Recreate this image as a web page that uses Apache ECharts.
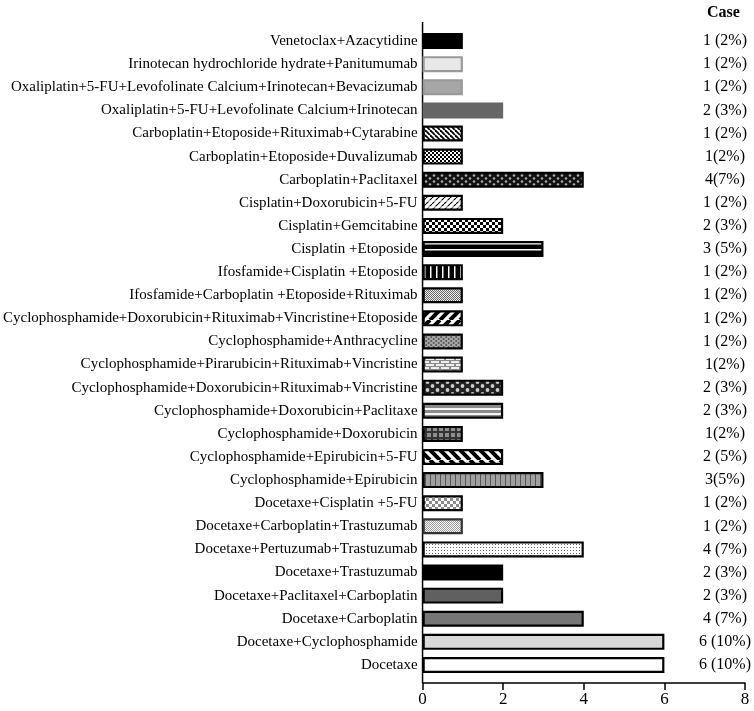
<!DOCTYPE html>
<html>
<head>
<meta charset="utf-8">
<script src="https://cdn.jsdelivr.net/npm/echarts@6/dist/echarts.min.js"></script>
<style>
html, body { margin: 0; padding: 0; background: #fff; }
#main { width: 754px; height: 711px; }
</style>
</head>
<body>
<div id="main"></div>
<script>
// regimens, top to bottom
var regimens = [
	'Venetoclax+Azacytidine',
	'Irinotecan hydrochloride hydrate+Panitumumab',
	'Oxaliplatin+5-FU+Levofolinate Calcium+Irinotecan+Bevacizumab',
	'Oxaliplatin+5-FU+Levofolinate Calcium+Irinotecan',
	'Carboplatin+Etoposide+Rituximab+Cytarabine',
	'Carboplatin+Etoposide+Duvalizumab',
	'Carboplatin+Paclitaxel',
	'Cisplatin+Doxorubicin+5-FU',
	'Cisplatin+Gemcitabine',
	'Cisplatin +Etoposide',
	'Ifosfamide+Cisplatin +Etoposide',
	'Ifosfamide+Carboplatin +Etoposide+Rituximab',
	'Cyclophosphamide+Doxorubicin+Rituximab+Vincristine+Etoposide',
	'Cyclophosphamide+Anthracycline',
	'Cyclophosphamide+Pirarubicin+Rituximab+Vincristine',
	'Cyclophosphamide+Doxorubicin+Rituximab+Vincristine',
	'Cyclophosphamide+Doxorubicin+Paclitaxe',
	'Cyclophosphamide+Doxorubicin',
	'Cyclophosphamide+Epirubicin+5-FU',
	'Cyclophosphamide+Epirubicin',
	'Docetaxe+Cisplatin +5-FU',
	'Docetaxe+Carboplatin+Trastuzumab',
	'Docetaxe+Pertuzumab+Trastuzumab',
	'Docetaxe+Trastuzumab',
	'Docetaxe+Paclitaxel+Carboplatin',
	'Docetaxe+Carboplatin',
	'Docetaxe+Cyclophosphamide',
	'Docetaxe'
];
var cases = [1, 1, 1, 2, 1, 1, 4, 1, 2, 3, 1, 1, 1, 1, 1, 2, 2, 1, 2, 3, 1, 1, 4, 2, 2, 4, 6, 6];
var caseLabels = [
	'1 (2%)', '1 (2%)', '1 (2%)', '2 (3%)', '1 (2%)', '1(2%)', '4(7%)', '1 (2%)', '2 (3%)', '3 (5%)',
	'1 (2%)', '1 (2%)', '1 (2%)', '1 (2%)', '1(2%)', '2 (3%)', '2 (3%)', '1(2%)', '2 (5%)', '3(5%)',
	'1 (2%)', '1 (2%)', '4 (7%)', '2 (3%)', '2 (3%)', '4 (7%)', '6 (10%)', '6 (10%)'
];
var xTicks = [0, 2, 4, 6, 8];

var serif = "'Liberation Serif', 'Times New Roman', serif";

// small canvas tiles for the hatched bars
function tile(w, h, bg, draw) {
	var c = document.createElement('canvas');
	c.width = w;
	c.height = h;
	var ctx = c.getContext('2d');
	ctx.fillStyle = bg;
	ctx.fillRect(0, 0, w, h);
	draw(ctx, w, h);
	return { image: c, repeat: 'repeat' };
}
function diag(ctx, p, back, lw, col) {
	ctx.strokeStyle = col;
	ctx.lineWidth = lw;
	for (var k = -1; k <= 1; k++) {
		ctx.beginPath();
		if (back) {
			ctx.moveTo(k * p, 0);
			ctx.lineTo(k * p + p, p);
		} else {
			ctx.moveTo(k * p, p);
			ctx.lineTo(k * p + p, 0);
		}
		ctx.stroke();
	}
}
function dot(ctx, x, y, r, col) {
	ctx.fillStyle = col;
	ctx.beginPath();
	ctx.arc(x, y, r, 0, Math.PI * 2);
	ctx.fill();
}
function rects(ctx, col, list) {
	ctx.fillStyle = col;
	list.forEach(function(r) { ctx.fillRect(r[0], r[1], r[2], r[3]); });
}

var pat = {
	diagFine: tile(5, 5, '#fff', function(ctx) { diag(ctx, 5, true, 1.8, '#000'); }),
	fineCheck: tile(4, 4, '#fff', function(ctx) { rects(ctx, '#000', [[0, 0, 2, 2], [2, 2, 2, 2]]); }),
	darkDots: tile(8, 6, '#111', function(ctx) { dot(ctx, 2, 1.5, 1.3, '#aaa'); dot(ctx, 6, 4.5, 1.3, '#aaa'); }),
	wave: tile(6, 6, '#fff', function(ctx) { diag(ctx, 6, false, 1.2, '#000'); rects(ctx, '#fff', [[0, 2.5, 6, 1]]); }),
	checker: tile(6, 6, '#fff', function(ctx) { rects(ctx, '#000', [[0, 0, 3, 3], [3, 3, 3, 3]]); }),
	hStripe: tile(4, 6, '#000', function(ctx) { rects(ctx, '#fff', [[0, 3, 4, 1.5]]); }),
	vStripe: tile(6, 4, '#000', function(ctx) { rects(ctx, '#fff', [[4, 0, 1.5, 4]]); }),
	grayFine: tile(2, 2, '#eee', function(ctx) { rects(ctx, '#666', [[0, 0, 1, 1], [1, 1, 1, 1]]); }),
	diagThickFwd: tile(10, 10, '#fff', function(ctx) { diag(ctx, 10, false, 4, '#000'); }),
	grayDots: tile(5, 4, '#a5a5a5', function(ctx) { dot(ctx, 1.2, 1, 1, '#555'); dot(ctx, 3.7, 3, 1, '#555'); }),
	brick: tile(10, 6, '#8c8c8c', function(ctx) { rects(ctx, '#eee', [[1, 1, 8, 2], [-4, 4, 8, 2], [6, 4, 8, 2]]); }),
	diamondDots: tile(10, 8, '#222', function(ctx) { dot(ctx, 2.5, 2, 1.9, '#ccc'); dot(ctx, 7.5, 6, 1.9, '#ccc'); }),
	grayHStripe: tile(4, 5, '#8a8a8a', function(ctx) { rects(ctx, '#f5f5f5', [[0, 3, 4, 2]]); }),
	grid: tile(6, 6, '#333', function(ctx) { rects(ctx, '#8f8f8f', [[1, 1, 4, 4]]); }),
	diagThickBack: tile(10, 10, '#fff', function(ctx) { diag(ctx, 10, true, 4, '#000'); }),
	grayVStripe: tile(5, 4, '#a0a0a0', function(ctx) { rects(ctx, '#555', [[0, 0, 1, 4]]); }),
	grayChecker: tile(6, 6, '#fff', function(ctx) { rects(ctx, '#8a8a8a', [[0, 0, 3, 3], [3, 3, 3, 3]]); }),
	stipple: tile(2, 2, '#fff', function(ctx) { rects(ctx, '#999', [[0, 0, 1, 1], [1, 1, 1, 1]]); }),
	dotted: tile(3, 3, '#fff', function(ctx) { rects(ctx, '#666', [[0, 1, 1, 1]]); })
};

// fill / border per bar, same order as regimens
var barStyles = [
	['#000', '#000'],
	['#e8e8e8', '#999'],
	['#a6a6a6', '#999'],
	['#666', '#666'],
	[pat.diagFine, '#000'],
	[pat.fineCheck, '#000'],
	[pat.darkDots, '#000'],
	[pat.wave, '#000'],
	[pat.checker, '#000'],
	[pat.hStripe, '#000'],
	[pat.vStripe, '#000'],
	[pat.grayFine, '#000'],
	[pat.diagThickFwd, '#000'],
	[pat.grayDots, '#000'],
	[pat.brick, '#000'],
	[pat.diamondDots, '#000'],
	[pat.grayHStripe, '#000'],
	[pat.grid, '#000'],
	[pat.diagThickBack, '#000'],
	[pat.grayVStripe, '#000'],
	[pat.grayChecker, '#000'],
	[pat.stipple, '#333'],
	[pat.dotted, '#000'],
	['#000', '#000'],
	['#606060', '#000'],
	['#767676', '#000'],
	['#d9d9d9', '#000'],
	['#fff', '#000']
];

var barData = cases.map(function(v, i) {
	return {
		value: v,
		itemStyle: {
			color: barStyles[i][0],
			borderColor: barStyles[i][1],
			borderWidth: 2.2
		}
	};
});

var gridTop = 29.5;
var gridBottom = 34.5;

var dom = document.getElementById('main');
var myChart = echarts.init(dom, null, { renderer: 'canvas' });

var option = {
	animation: false,
	backgroundColor: '#fff',
	title: {
		text: 'Case',
		left: 702,
		top: 0,
		textStyle: { fontFamily: serif, fontSize: 16, fontWeight: 'bold', color: '#000' }
	},
	grid: {
		left: 421,
		right: 9,
		top: gridTop,
		bottom: gridBottom,
		containLabel: false
	},
	xAxis: {
		type: 'value',
		min: xTicks[0],
		max: xTicks[xTicks.length - 1],
		interval: 2,
		offset: 6.5,
		splitLine: { show: false },
		axisLine: { show: true, lineStyle: { color: '#000', width: 1.5 } },
		axisTick: { show: true, length: 7, lineStyle: { color: '#000', width: 1.5 } },
		axisLabel: {
			margin: 8,
			fontFamily: serif,
			fontSize: 17,
			color: '#000'
		}
	},
	yAxis: [{
		type: 'category',
		data: regimens,
		inverse: true,
		axisLine: { show: false },
		axisTick: { show: false },
		axisLabel: {
			interval: 0,
			margin: 5,
			fontFamily: serif,
			fontSize: 15,
			color: '#000'
		}
	}, {
		type: 'category',
		data: caseLabels,
		inverse: true,
		position: 'right',
		axisLine: { show: false },
		axisTick: { show: false },
		axisLabel: {
			interval: 0,
			inside: true,
			align: 'center',
			margin: 20,
			fontFamily: serif,
			fontSize: 16,
			color: '#000'
		}
	}],
	series: [{
		type: 'bar',
		yAxisIndex: 0,
		barWidth: 16,
		data: barData
	}]
};

if (option && typeof option === 'object') {
	myChart.setOption(option);
}

// y axis line runs a little past the category band at both ends
var x0 = myChart.convertToPixel({ xAxisIndex: 0 }, 0);
var h = myChart.getHeight();
myChart.setOption({
	graphic: [{
		type: 'line',
		shape: { x1: x0, y1: gridTop - 7.5, x2: x0, y2: h - gridBottom + 6.5 },
		style: { stroke: '#000', lineWidth: 1.5 }
	}]
});

window.addEventListener('resize', myChart.resize);
</script>
</body>
</html>
